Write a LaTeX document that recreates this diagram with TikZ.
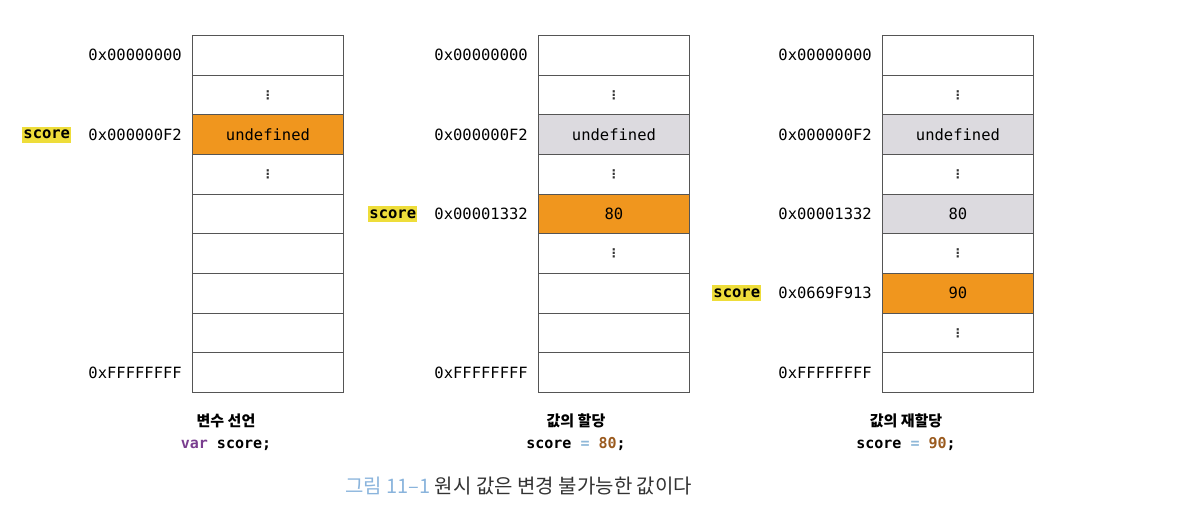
\documentclass[tikz,border=0pt]{standalone}
\usepackage{fontspec}
\setmonofont{DejaVu Sans Mono}
\newfontfamily\kr{Noto Sans CJK KR}
\newfontfamily\dv{DejaVu Sans}
\definecolor{cellorange}{HTML}{F0961E}
\definecolor{cellgray}{HTML}{DCDADF}
\definecolor{hl}{HTML}{EEDD3A}
\definecolor{kwpurple}{HTML}{7A3E8F}
\definecolor{opblue}{HTML}{8FB8D8}
\definecolor{numbrown}{HTML}{9A5A1E}
\definecolor{capblue}{HTML}{8AB4DC}
\definecolor{captext}{HTML}{333333}
\definecolor{border}{HTML}{555555}
\begin{document}
\begin{tikzpicture}[x=1pt,y=-1pt,
  cell/.style={draw=border,line width=0.9pt,rectangle,minimum width=151pt,minimum height=39.67pt,inner sep=0pt,anchor=north west,font=\ttfamily\fontsize{15.5}{18}\selectfont},
  orangecell/.style={cell,fill=cellorange},
  graycell/.style={cell,fill=cellgray},
  addr/.style={anchor=east,inner sep=0pt,font=\ttfamily\fontsize{15.5}{18}\selectfont},
  scorelbl/.style={anchor=east,fill=hl,inner xsep=1pt,inner ysep=3.5pt,font=\ttfamily\bfseries\fontsize{15.5}{18}\selectfont},
  dots/.style={inner sep=0pt,font=\dv\bfseries\fontsize{12}{12}\selectfont,text=black!80},
  capt/.style={align=center,inner sep=0pt,font=\ttfamily\bfseries\fontsize{15}{22}\selectfont}
]
\useasboundingbox (0,0) rectangle (1201,517);
\def\rh{39.67}
% stack 1
\foreach \i in {0,...,8} {
  \node[cell] (a\i) at (192,{35+\i*\rh}) {};
}
\node[orangecell] (a2) at (192,{35+2*\rh}) {undefined};
\node[dots] (a1d) at (a1.center) {⋮};
\node[dots] (a3d) at (a3.center) {⋮};
\node[addr] (a0l) at ([xshift=-10pt]a0.west) {0x00000000};
\node[addr] (a2l) at ([xshift=-10pt]a2.west) {0x000000F2};
\node[addr] (a8l) at ([xshift=-10pt]a8.west) {0xFFFFFFFF};
\node[scorelbl] (a2s) at ([xshift=-17pt]a2l.west) {score};
% stack 2
\foreach \i in {0,...,8} {
  \node[cell] (b\i) at (538,{35+\i*\rh}) {};
}
\node[graycell] (b2) at (538,{35+2*\rh}) {undefined};
\node[orangecell] (b4) at (538,{35+4*\rh}) {80};
\node[dots] (b1d) at (b1.center) {⋮};
\node[dots] (b3d) at (b3.center) {⋮};
\node[dots] (b5d) at (b5.center) {⋮};
\node[addr] (b0l) at ([xshift=-10pt]b0.west) {0x00000000};
\node[addr] (b2l) at ([xshift=-10pt]b2.west) {0x000000F2};
\node[addr] (b4l) at ([xshift=-10pt]b4.west) {0x00001332};
\node[addr] (b8l) at ([xshift=-10pt]b8.west) {0xFFFFFFFF};
\node[scorelbl] (b4s) at ([xshift=-17pt]b4l.west) {score};
% stack 3
\foreach \i in {0,...,8} {
  \node[cell] (c\i) at (882,{35+\i*\rh}) {};
}
\node[graycell] (c2) at (882,{35+2*\rh}) {undefined};
\node[graycell] (c4) at (882,{35+4*\rh}) {80};
\node[orangecell] (c6) at (882,{35+6*\rh}) {90};
\node[dots] (c1d) at (c1.center) {⋮};
\node[dots] (c3d) at (c3.center) {⋮};
\node[dots] (c5d) at (c5.center) {⋮};
\node[dots] (c7d) at (c7.center) {⋮};
\node[addr] (c0l) at ([xshift=-10pt]c0.west) {0x00000000};
\node[addr] (c2l) at ([xshift=-10pt]c2.west) {0x000000F2};
\node[addr] (c4l) at ([xshift=-10pt]c4.west) {0x00001332};
\node[addr] (c6l) at ([xshift=-10pt]c6.west) {0x0669F913};
\node[addr] (c8l) at ([xshift=-10pt]c8.west) {0xFFFFFFFF};
\node[scorelbl] (c6s) at ([xshift=-17pt]c6l.west) {score};
% captions
\node[capt] (capa) at (226,432) {{\kr\bfseries\fontsize{15}{16}\selectfont 변수 선언}\\\textcolor{kwpurple}{var} score;};
\node[capt] (capb) at (576,432) {{\kr\bfseries\fontsize{15}{16}\selectfont 값의 할당}\\score \textcolor{opblue}{=} \textcolor{numbrown}{80};};
\node[capt] (capc) at (906,432) {{\kr\bfseries\fontsize{15}{16}\selectfont 값의 재할당}\\score \textcolor{opblue}{=} \textcolor{numbrown}{90};};
\node[inner sep=0pt,anchor=west,font=\kr\fontsize{20}{22}\selectfont,text=captext] (fig) at (345,486) {\textcolor{capblue}{그림 11–1} 원시 값은 변경 불가능한 값이다};
\end{tikzpicture}
\end{document}
